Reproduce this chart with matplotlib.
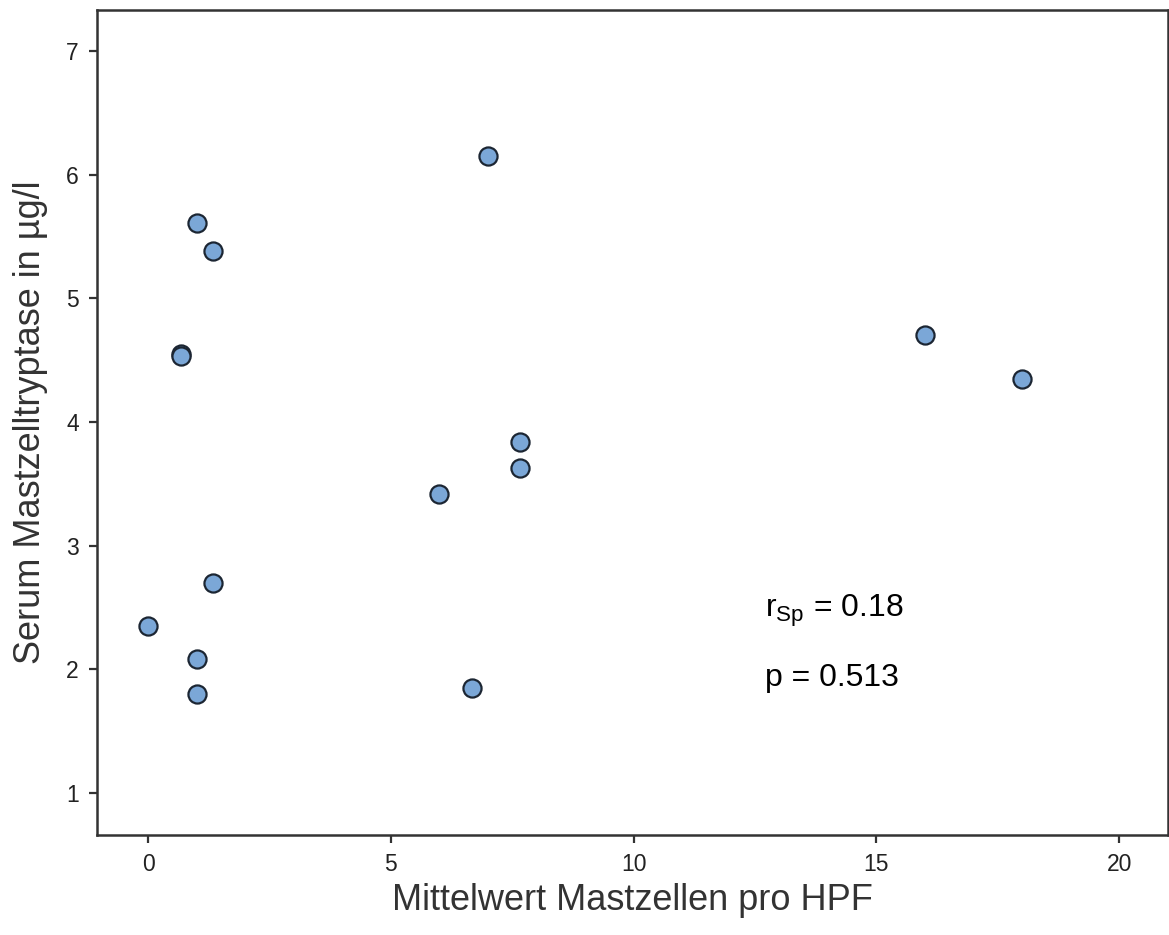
import matplotlib
matplotlib.use("Agg")
import matplotlib.pyplot as plt

# Mittelwert Mastzellen pro HPF vs. Serum Mastzelltryptase
mastzellen = [1.0, 1.33, 0.67, 0.67, 7.0, 16.0, 18.0, 7.67, 7.67, 6.0,
              1.33, 0.0, 1.0, 1.0, 6.67]
tryptase = [5.61, 5.38, 4.55, 4.53, 6.15, 4.70, 4.35, 3.84, 3.63, 3.42,
            2.70, 2.35, 2.08, 1.80, 1.85]
xticks = [0, 5, 10, 15, 20]
yticks = [1, 2, 3, 4, 5, 6, 7]

plt.rcParams['font.family'] = ['Liberation Sans', 'DejaVu Sans']

fig = plt.figure(figsize=(11.69, 9.35), dpi=100)
ax = fig.add_axes([0.083, 0.107, 0.916, 0.882])

ax.scatter(mastzellen, tryptase, s=170, facecolor='#7ba7d7', edgecolor='#1c2633',
           linewidth=1.6, zorder=3)

ax.set_xlim(-1.05, 21.0)
ax.set_ylim(0.66, 7.33)
ax.set_xticks(xticks)
ax.set_yticks(yticks)
ax.tick_params(direction='out', length=6, width=1.6, color='#333333',
               labelsize=16.5, labelcolor='#222222', pad=7)
for sp in ax.spines.values():
    sp.set_linewidth(1.8)
    sp.set_color('#333333')

ax.set_xlabel('Mittelwert Mastzellen pro HPF', fontsize=26, color='#333333', labelpad=5)
ax.set_ylabel('Serum Mastzelltryptase in µg/l', fontsize=26, color='#333333', labelpad=13)

ax.text(12.7, 2.47, r'r$_{\mathregular{Sp}}$ = 0.18', fontsize=23, va='center', ha='left')
ax.text(12.7, 1.93, 'p = 0.513', fontsize=23, va='center', ha='left')

fig.savefig('out.png', dpi=100)
